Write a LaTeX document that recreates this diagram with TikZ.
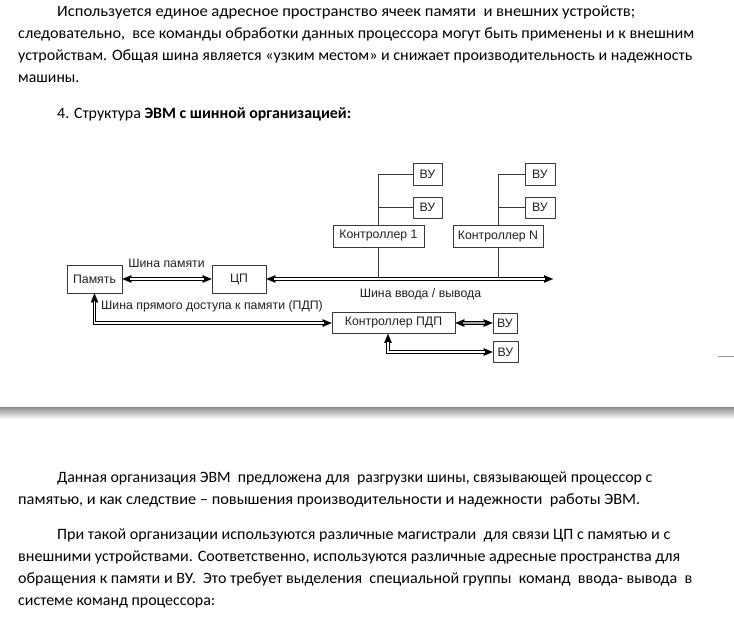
\documentclass[tikz,border=0pt]{standalone}
\usepackage{fontspec}
\usepackage{graphicx}
\setmainfont{Carlito}
\newfontfamily\diag{Liberation Sans}
\usetikzlibrary{arrows.meta,calc}
\definecolor{boxc}{HTML}{3A3A3A}
\definecolor{txtc}{HTML}{202020}
\newcommand\lineto[2]{\resizebox{#1pt}{\height}{#2}}
\begin{document}
\begin{tikzpicture}[x=1pt,y=-1pt,
  txt/.style={anchor=base west, inner sep=0pt, font=\fontsize{15.8}{18}\selectfont},
  box/.style={draw=boxc, line width=0.8pt, inner sep=0pt, fill=white, text=txtc,
    font=\diag\fontsize{12.3}{14}\selectfont},
  lbl/.style={anchor=base, inner sep=0pt, text=txtc, font=\diag\fontsize{12.3}{14}\selectfont},
  thin/.style={draw=boxc, line width=0.8pt},
  busout/.style={draw=black, line width=3.2pt, {Triangle[length=9pt,width=7.5pt,line width=0.1pt]}-{Triangle[length=9pt,width=7.5pt,line width=0.1pt]}},
  busin/.style={draw=white, line width=1.1pt, shorten <=8pt, shorten >=8pt},
  graycore/.style={draw=gray!70, line width=1.8pt, shorten <=8pt, shorten >=8pt}]
\useasboundingbox (0,0) rectangle (734,622);

% text above
\node[txt] (t1) at (57,16) {\lineto{578}{Используется единое адресное пространство ячеек памяти\ \ и внешних устройств;}};
\node[txt] (t2) at (18,38) {\lineto{676}{следовательно,\ \ все команды обработки данных процессора могут быть применены и к внешним}};
\node[txt] (t3) at (18,60) {\lineto{674}{устройствам. Общая шина является «узким местом» и снижает производительность и надежность}};
\node[txt] (t4) at (18,82) {машины.};
\node[txt] (t5) at (57,118) {\lineto{294}{4. Структура \textbf{ЭВМ с шинной организацией:}}};

% boxes
\node[box, minimum width=55pt, minimum height=28pt] (mem) at (94.5,279) {Память};
\node[box, minimum width=54pt, minimum height=28pt] (cpu) at (239,279) {ЦП};
\node[box, minimum width=91pt, minimum height=22pt] (c1) at (378.5,236) {Контроллер 1};
\node[box, minimum width=90pt, minimum height=22pt] (cN) at (498,236.5) {Контроллер N};
\node[box, minimum width=29pt, minimum height=22pt] (v1a) at (427.5,174) {ВУ};
\node[box, minimum width=29pt, minimum height=21pt] (v1b) at (427.5,207.5) {ВУ};
\node[box, minimum width=30pt, minimum height=22pt] (vNa) at (540,174) {ВУ};
\node[box, minimum width=30pt, minimum height=21pt] (vNb) at (540,207.5) {ВУ};
\node[box, minimum width=123pt, minimum height=21pt] (kp) at (393.5,323) {Контроллер ПДП};
\node[box, minimum width=24pt, minimum height=20pt] (vp1) at (505,323) {ВУ};
\node[box, minimum width=25pt, minimum height=21pt] (vp2) at (505.5,352) {ВУ};

% bus coordinates
\coordinate (busend) at (553,279);
\coordinate (b1) at (c1.south |- busend);
\coordinate (bN) at (cN.south |- busend);
\coordinate (k1) at (c1.north |- v1a.west);
\coordinate (kN) at (cN.north |- vNa.west);
\coordinate (kpb) at ($(kp.south)+(-5.5,0)$);

% thin controller lines
\draw[thin] (b1) -- (c1.south);
\draw[thin] (c1.north) -- (k1) -- (v1a.west);
\draw[thin] (c1.north |- v1b.west) -- (v1b.west);
\draw[thin] (bN) -- (cN.south);
\draw[thin] (cN.north) -- (kN) -- (vNa.west);
\draw[thin] (cN.north |- vNb.west) -- (vNb.west);

% memory bus
\draw[busout] (mem.east) -- (cpu.west);
\draw[busin] (mem.east) -- (cpu.west);
% io bus
\draw[busout] (cpu.east) -- (busend);
\draw[busin] (cpu.east) -- (busend);
% dma bus
\draw[busout] (mem.south) |- (kp.west);
\draw[busin] (mem.south) |- (kp.west);
% kp - vp1
\draw[busout] (kp.east) -- (vp1.west);
\draw[graycore] (kp.east) -- (vp1.west);
% kp - vp2
\draw[busout] (kpb) |- (vp2.west);
\draw[busin] (kpb) |- (vp2.west);

% labels
\node[lbl] (l1) at (166.5,267) {Шина памяти};
\node[lbl] (l2) at (420.5,297) {Шина ввода / вывода};
\node[lbl, anchor=base west] (l3) at (101,309) {Шина прямого доступа к памяти (ПДП)};

% page break
\draw[gray!80, line width=0.8pt] (718,356) -- (734,356);
\shade[top color=black!45, bottom color=black!4] (0,407) rectangle (734,418);

% text below
\node[txt] (u1) at (57,482) {\lineto{595}{Данная организация ЭВМ\ \ предложена для\ \ разгрузки шины, связывающей процессор с}};
\node[txt] (u2) at (18,504) {\lineto{622}{памятью, и как следствие – повышения производительности и надежности\ \ работы ЭВМ.}};
\node[txt] (u3) at (57,539) {\lineto{613}{При такой организации используются различные магистрали\ \ для связи ЦП с памятью и с}};
\node[txt] (u4) at (18,561) {\lineto{662}{внешними устройствами. Соответственно, используются различные адресные пространства для}};
\node[txt] (u5) at (18,583) {\lineto{674}{обращения к памяти и ВУ.\ \ Это требует выделения\ \ специальной группы\ \ команд\ \ ввода- вывода\ \ в}};
\node[txt] (u6) at (18,605) {\lineto{197}{системе команд процессора:}};
\end{tikzpicture}
\end{document}
